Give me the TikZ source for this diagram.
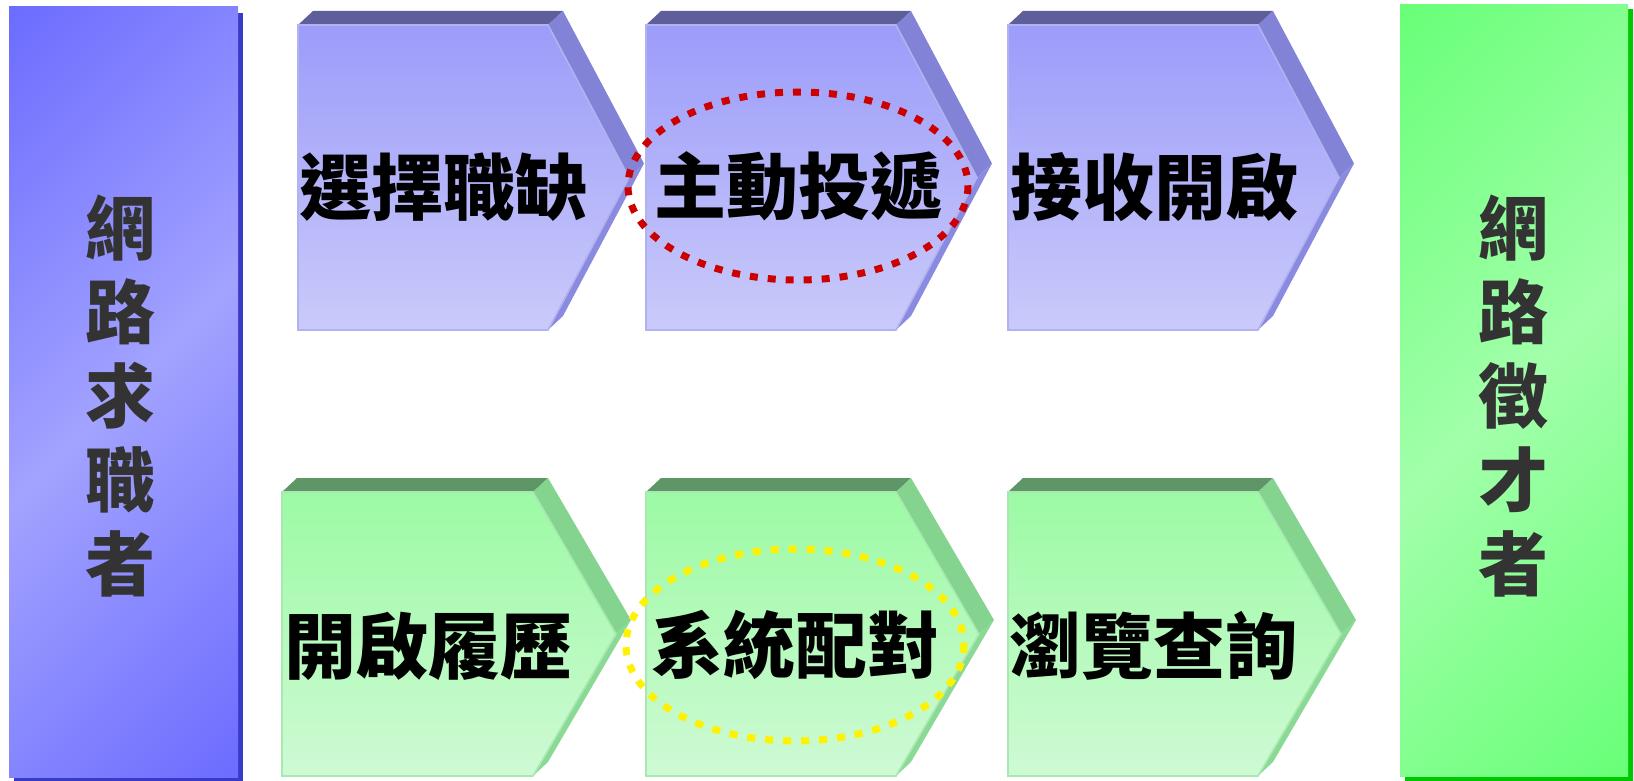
\documentclass[tikz,border=0pt]{standalone}
\usepackage{fontspec}
\newfontfamily\cjk{Noto Sans CJK TC}
\usetikzlibrary{positioning}

\definecolor{bluefacetop}{RGB}{156,156,250}
\definecolor{bluefacebot}{RGB}{202,202,250}
\definecolor{bluetopc}{RGB}{94,94,154}
\definecolor{bluesidec}{RGB}{130,130,214}
\definecolor{bluelowc}{RGB}{138,138,224}
\definecolor{blueedge}{RGB}{178,178,240}
\definecolor{greenfacetop}{RGB}{156,250,164}
\definecolor{greenfacebot}{RGB}{206,250,212}
\definecolor{greentopc}{RGB}{94,150,104}
\definecolor{greensidec}{RGB}{132,212,144}
\definecolor{greenlowc}{RGB}{138,218,150}
\definecolor{greenedge}{RGB}{170,232,178}
\definecolor{bluebardark}{RGB}{104,104,255}
\definecolor{bluebarlight}{RGB}{162,162,255}
\definecolor{bluebarshadow}{RGB}{58,58,200}
\definecolor{greenbardark}{RGB}{100,255,116}
\definecolor{greenbarlight}{RGB}{162,255,170}
\definecolor{greenbarshadow}{RGB}{0,200,0}
\definecolor{bartextc}{RGB}{51,51,51}

\pgfdeclareverticalshading{bluebarshade}{100bp}{color(0bp)=(bluebardark); color(12bp)=(bluebardark); color(50bp)=(bluebarlight); color(88bp)=(bluebardark); color(100bp)=(bluebardark)}
\pgfdeclareverticalshading{greenbarshade}{100bp}{color(0bp)=(greenbardark); color(12bp)=(greenbardark); color(50bp)=(greenbarlight); color(88bp)=(greenbardark); color(100bp)=(greenbardark)}

\tikzset{
	blueface/.style={top color=bluefacetop, bottom color=bluefacebot, draw=blueedge, line width=0.8pt},
	bluetop/.style={fill=bluetopc},
	blueside/.style={fill=bluesidec},
	bluelow/.style={fill=bluelowc},
	greenface/.style={top color=greenfacetop, bottom color=greenfacebot, draw=greenedge, line width=0.8pt},
	greentop/.style={fill=greentopc},
	greenside/.style={fill=greensidec},
	greenlow/.style={fill=greenlowc},
	bluebar/.style={shading=bluebarshade, shading angle=45},
	greenbar/.style={shading=greenbarshade, shading angle=45},
	steptext/.style={font=\cjk\bfseries\fontsize{36}{40}\selectfont, text=black, inner sep=0pt},
	bartext/.style={font=\cjk\bfseries\fontsize{35}{42}\selectfont, text=bartextc, align=center, inner sep=0pt},
	loop/.style={line width=3.5pt, dash pattern=on 4pt off 5pt},
}

% x0, x right, x tip, y top, y bottom, colour set
\newcommand{\stepchevron}[6]{%
	\fill[#6top] (#1,#4) -- (#2,#4) -- (#2+15,#4-14) -- (#1+15,#4-14) -- cycle;
	\fill[#6side] (#2,#4) -- ({#3},{(#4+#5)/2}) -- ({#3+15},{(#4+#5)/2-14}) -- (#2+15,#4-14) -- cycle;
	\fill[#6low] ({#3},{(#4+#5)/2}) -- (#2,#5) -- (#2+15,#5-14) -- ({#3+15},{(#4+#5)/2-14}) -- cycle;
	\shade[#6face] (#1,#4) -- (#2,#4) -- ({#3},{(#4+#5)/2}) -- (#2,#5) -- (#1,#5) -- cycle;
}

\begin{document}
\begin{tikzpicture}[x=0.5pt, y=-0.5pt]
	\useasboundingbox (0,0) rectangle (1634,781);

	% side bars
	\fill[bluebarshadow] (14,13) rectangle (243,781);
	\shade[bluebar] (9,7) rectangle (238,777);
	\fill[greenbarshadow] (1405,9) rectangle (1633,781);
	\shade[greenbar] (1400,5) rectangle (1628,776);

	% seeker steps
	\stepchevron{298}{548}{629}{25}{330}{blue}
	\stepchevron{646}{896}{977}{25}{330}{blue}
	\stepchevron{1008}{1258}{1339}{25}{330}{blue}

	% recruiter steps
	\stepchevron{282}{533}{616}{492}{776}{green}
	\stepchevron{646}{896}{979}{492}{776}{green}
	\stepchevron{1008}{1258}{1341}{492}{776}{green}

	\node[bartext] (seeker) at (120,396) {網\\路\\求\\職\\者};
	\node[bartext] (recruiter) at (1513,396) {網\\路\\徵\\才\\者};

	\node[steptext] (choose) at (443,187) {選擇職缺};
	\node[steptext] (apply) at (798,186) {主動投遞};
	\node[steptext] (receive) at (1154,187) {接收開啟};

	\node[steptext] (resume) at (428,646) {開啟履歷};
	\node[steptext] (match) at (795,645) {系統配對};
	\node[steptext] (browse) at (1153,646) {瀏覽查詢};

	\draw[loop, draw={rgb,255:red,204;green,0;blue,0}] (apply) ellipse [x radius=170, y radius=94];
	\draw[loop, draw=yellow] (match) ellipse [x radius=169, y radius=96];
\end{tikzpicture}
\end{document}
